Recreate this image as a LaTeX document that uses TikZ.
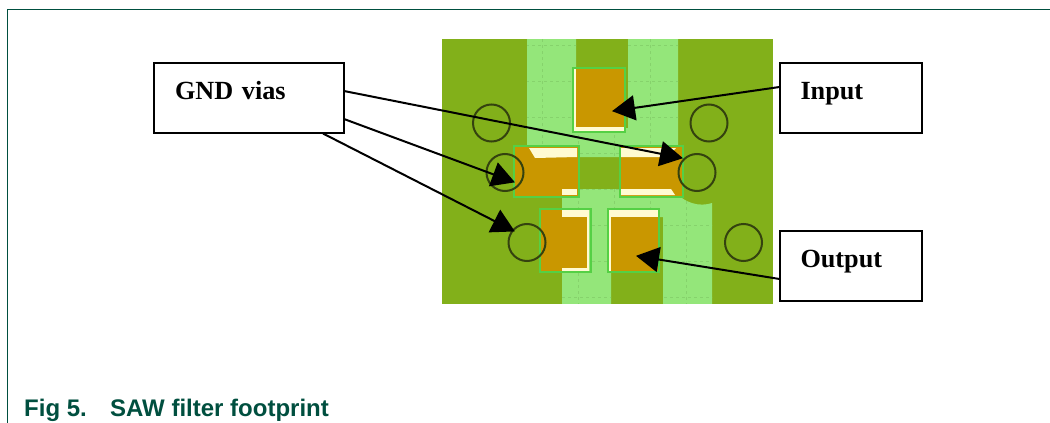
\documentclass[tikz,border=0pt]{standalone}
\usepackage{fontspec}
\setmainfont{Liberation Serif}
\newfontfamily\capfont{Liberation Sans}
\usetikzlibrary{arrows.meta}
\definecolor{frameC}{HTML}{004F3F}
\definecolor{boardC}{HTML}{82B01A}
\definecolor{traceC}{HTML}{94E67A}
\definecolor{gridC}{HTML}{86D26C}
\definecolor{copperC}{HTML}{C99700}
\definecolor{creamC}{HTML}{FFFBD2}
\definecolor{padlineC}{HTML}{55D045}
\definecolor{viaC}{HTML}{34420F}
\tikzset{
  x=1pt,y=-1pt,
  callout/.style={draw=black,line width=2pt,outer sep=0pt,fill=white,anchor=north west,align=left,
    inner xsep=21pt,inner ysep=0pt,text height=36pt,text depth=34pt,
    font=\bfseries\fontsize{26.2}{26}\selectfont},
  via/.style={circle,draw=viaC,line width=2pt,minimum size=37pt,inner sep=0pt,outer sep=0pt},
  padline/.style={draw=padlineC,line width=1.5pt},
  leader/.style={draw=black,line width=2pt,-{Triangle[length=23pt,width=25pt]},shorten >=-1pt},
}
\begin{document}
\begin{tikzpicture}
\useasboundingbox (0,0) rectangle (1050,423);
\fill[white] (0,0) rectangle (1050,423);
\draw[frameC,line width=1.4pt] (7.5,423) -- (7.5,9.5) -- (1050,9.5);

% board
\fill[boardC] (442,39) rectangle (773,304);
\begin{scope}
  \clip (527,39) -- (576,39) -- (576,128) -- (628,128) -- (628,39) -- (678,39) -- (678,157) -- (527,157) -- cycle
        (562,189) -- (673,189) .. controls (684,204) and (700,207) .. (712,203) -- (712,304) -- (663,304) -- (663,217) -- (611,217) -- (611,304) -- (562,304) -- cycle;
  \fill[traceC] (442,39) rectangle (773,304);
  \foreach \yy in {45,81,117,153,189,225,261,297}
    \draw[gridC,line width=0.8pt,dashed] (442,\yy) -- (773,\yy);
  \foreach \xx in {542,578,614,650,686}
    \draw[gridC,line width=0.8pt,dashed] (\xx,39) -- (\xx,304);
\end{scope}

% top pad
\fill[copperC] (575,69) rectangle (624,131);
\fill[creamC] (574,127) rectangle (624,131);
\fill[creamC] (574,69) rectangle (576,131);
\draw[padline] (573,68) rectangle (625,132);

% middle left pad
\fill[copperC] (515,147) rectangle (578,196);
\fill[creamC] (529,148) -- (577,148) -- (577,157) -- (535,158) -- cycle;
\fill[creamC] (562,189) rectangle (577,195);
\draw[padline] (514,146) rectangle (579,197);

% middle right pad
\fill[copperC] (621,147) rectangle (682,196);
\fill[creamC] (621,148) -- (676,148) -- (668,157) -- (621,157) -- cycle;
\fill[creamC] (621,189) -- (671,189) -- (675,195) -- (621,195) -- cycle;
\draw[padline] (620,146) rectangle (683,197);

% lower left pad
\fill[copperC] (541,210) rectangle (588,271);
\fill[creamC] (562,210) rectangle (589,217);
\fill[creamC] (562,268) rectangle (589,271);
\fill[creamC] (587,210) rectangle (589,271);
\draw[padline] (540,209) rectangle (591,272);

% lower right pad
\fill[copperC] (609,210) rectangle (658,271);
\fill[creamC] (609,210) rectangle (658,217);
\fill[creamC] (609,210) rectangle (611,271);
\draw[padline] (608,209) rectangle (659,272);

% vias
\node[via] (v1) at (491.5,123) {};
\node[via] (v2) at (709,123) {};
\node[via] (v3) at (505,172.5) {};
\node[via] (v4) at (697,172.5) {};
\node[via] (v5) at (527,242.5) {};
\node[via] (v6) at (743.5,242.5) {};

% callouts
\node[callout,text width=148pt] (gnd) at (154,63) {GND vias};
\node[callout,text width=100pt] (inp) at (779.5,63) {Input};
\node[callout,text width=100pt] (out) at (779.5,231) {Output};

% leader ends
\coordinate (g1s) at (344,91);
\coordinate (g2s) at (344,119);
\coordinate (g3s) at (323,133.5);
\coordinate (is) at (779.5,87);
\coordinate (os) at (779.5,279);
\coordinate (g1t) at (682,158);
\coordinate (g2t) at (514,182);
\coordinate (g3t) at (514,231);
\coordinate (it) at (613,111);
\coordinate (ot) at (637,256);
\draw[leader] (g1s) -- (g1t);
\draw[leader] (g2s) -- (g2t);
\draw[leader] (g3s) -- (g3t);
\draw[leader] (is) -- (it);
\draw[leader] (os) -- (ot);

% caption
\node[anchor=base west,inner sep=0pt,text=frameC,font=\capfont\bfseries\fontsize{24}{24}\selectfont] (capA) at (24,416) {Fig 5.};
\node[anchor=base west,inner sep=0pt,text=frameC,font=\capfont\bfseries\fontsize{24}{24}\selectfont] (capB) at (110,416) {SAW filter footprint};
\end{tikzpicture}
\end{document}
